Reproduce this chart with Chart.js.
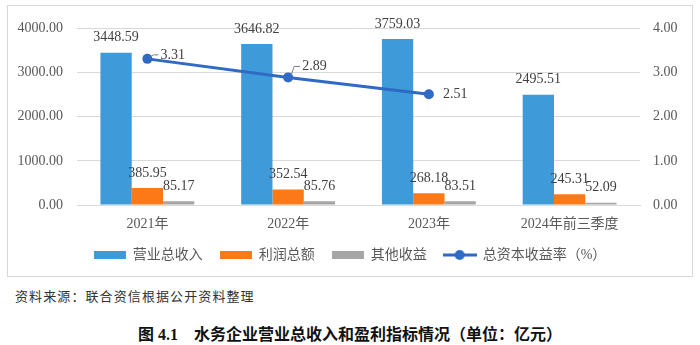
<!DOCTYPE html>
<html>
<head>
<meta charset="utf-8">
<script src="https://cdn.jsdelivr.net/npm/chart.js@4.4.1/dist/chart.umd.min.js"></script>
<style>
  body { margin: 0; background: #fff; width: 700px; height: 345px; position: relative; overflow: hidden; }
  #box { position: absolute; left: 7px; top: 5px; width: 684px; height: 270px; border: 1px solid #d9d9d9; }
  #source { position: absolute; left: 15px; top: 286px; font: 13px "Noto Sans CJK SC", sans-serif; letter-spacing: 1.1px; color: #333; }
  #caption { position: absolute; left: 0; width: 700px; top: 321px; text-align: center; font: bold 16px "Liberation Serif", "Noto Sans CJK SC", serif; color: #111; }
</style>
</head>
<body>
<div id="box"><canvas id="myChart" width="684" height="270"></canvas></div>
<div id="source">资料来源：联合资信根据公开资料整理</div>
<div id="caption">图 4.1&nbsp;&nbsp;&nbsp;&nbsp;水务企业营业总收入和盈利指标情况（单位：亿元）</div>
<script>
let labels = ['2021年', '2022年', '2023年', '2024年前三季度'];
let revenue = [3448.59, 3646.82, 3759.03, 2495.51];
let profit = [385.95, 352.54, 268.18, 245.31];
let otherIncome = [85.17, 85.76, 83.51, 52.09];
let returnRate = [3.31, 2.89, 2.51, null];

let leftTicks = [0, 1000, 2000, 3000, 4000];
let rightTicks = [0, 1, 2, 3, 4];

let colors = ['#3e9ad8', '#fb7a17', '#a6a6a6', '#2f6ac4'];
let fontFamily = '"Liberation Serif", "Noto Sans CJK SC", serif';

// where the rate labels sit relative to their point, and whether they get a leader
let rateLabelPos = [
  { dx: 13, dy: -4, leader: true },
  { dx: 14, dy: -11, leader: true },
  { dx: 14, dy: 0, leader: false }
];

// legend icons: flat bars and a line with a dot
function barIcon(color) {
  let c = document.createElement('canvas');
  c.width = 32; c.height = 8;
  let ctx = c.getContext('2d');
  ctx.fillStyle = color;
  ctx.fillRect(0, 0, 32, 8);
  return c;
}
function lineIcon(color) {
  let c = document.createElement('canvas');
  c.width = 34; c.height = 12;
  let ctx = c.getContext('2d');
  ctx.strokeStyle = color;
  ctx.lineWidth = 3;
  ctx.beginPath(); ctx.moveTo(0, 6); ctx.lineTo(34, 6); ctx.stroke();
  ctx.fillStyle = color;
  ctx.beginPath(); ctx.arc(17, 6, 5, 0, Math.PI * 2); ctx.fill();
  return c;
}
let icons = [barIcon(colors[0]), barIcon(colors[1]), barIcon(colors[2]), lineIcon(colors[3])];

let valueLabels = {
  id: 'valueLabels',
  afterDatasetsDraw(chart) {
    let ctx = chart.ctx;
    ctx.save();
    ctx.font = '14px ' + fontFamily;
    ctx.fillStyle = '#404040';
    ctx.textBaseline = 'middle';
    chart.data.datasets.forEach((ds, i) => {
      let meta = chart.getDatasetMeta(i);
      meta.data.forEach((el, j) => {
        let v = ds.data[j];
        if (v === null || v === undefined) return;
        let text = v.toFixed(2);
        if (ds.type === 'line') {
          let p = rateLabelPos[j];
          ctx.textAlign = 'left';
          ctx.fillText(text, el.x + p.dx, el.y + p.dy);
          if (p.leader) {
            ctx.strokeStyle = '#7f7f7f';
            ctx.lineWidth = 1;
            ctx.beginPath();
            ctx.moveTo(el.x + 3, el.y - 2);
            ctx.lineTo(el.x + 6, el.y + p.dy);
            ctx.lineTo(el.x + p.dx - 2, el.y + p.dy);
            ctx.stroke();
          }
        } else {
          ctx.textAlign = 'center';
          ctx.fillText(text, el.x, el.y - 15);
        }
      });
    });
    ctx.restore();
  }
};

let mychart = document.getElementById('myChart');

let chart = new Chart(mychart, {
  data: {
    labels: labels,
    datasets: [
      { type: 'bar', label: '营业总收入', data: revenue, backgroundColor: colors[0], yAxisID: 'y', order: 1 },
      { type: 'bar', label: '利润总额', data: profit, backgroundColor: colors[1], yAxisID: 'y', order: 1 },
      { type: 'bar', label: '其他收益', data: otherIncome, backgroundColor: colors[2], yAxisID: 'y', order: 1 },
      {
        type: 'line', label: '总资本收益率（%）', data: returnRate, yAxisID: 'y1', order: 0,
        borderColor: colors[3], backgroundColor: colors[3], borderWidth: 3,
        pointRadius: 5, pointBackgroundColor: colors[3], pointBorderWidth: 0, tension: 0
      }
    ]
  },
  options: {
    responsive: false,
    animation: false,
    layout: { padding: { top: 17, left: 0, right: 0, bottom: 15 } },
    datasets: { bar: { barPercentage: 1, categoryPercentage: 0.667 } },
    scales: {
      x: {
        afterFit(scale) { scale.height = 26; },
        grid: { display: false, drawTicks: false },
        border: { color: '#d9d9d9' },
        ticks: { padding: 11, color: '#595959', font: { size: 14, family: fontFamily } }
      },
      y: {
        position: 'left', min: 0, max: 4000,
        afterFit(scale) { scale.width = 69; },
        afterBuildTicks(scale) { scale.ticks = leftTicks.map(v => ({ value: v })); },
        grid: { color: '#d9d9d9', drawTicks: false },
        border: { display: false },
        ticks: { padding: 14, color: '#595959', font: { size: 14, family: fontFamily }, callback: v => v.toFixed(2) }
      },
      y1: {
        position: 'right', min: 0, max: 4,
        afterFit(scale) { scale.width = 52; },
        afterBuildTicks(scale) { scale.ticks = rightTicks.map(v => ({ value: v })); },
        grid: { drawOnChartArea: false, drawTicks: false },
        border: { display: false },
        ticks: { padding: 13, color: '#595959', font: { size: 14, family: fontFamily }, callback: v => v.toFixed(2) }
      }
    },
    plugins: {
      tooltip: { enabled: false },
      legend: {
        position: 'bottom',
        maxHeight: 30,
        labels: {
          usePointStyle: true,
          pointStyleWidth: 32,
          padding: 17,
          color: '#595959',
          font: { size: 14, family: fontFamily },
          generateLabels(c) {
            let items = Chart.defaults.plugins.legend.labels.generateLabels(c);
            items.forEach(it => { it.pointStyle = icons[it.datasetIndex]; });
            return items.sort((a, b) => a.datasetIndex - b.datasetIndex);
          }
        }
      }
    }
  },
  plugins: [valueLabels]
});
</script>
</body>
</html>
